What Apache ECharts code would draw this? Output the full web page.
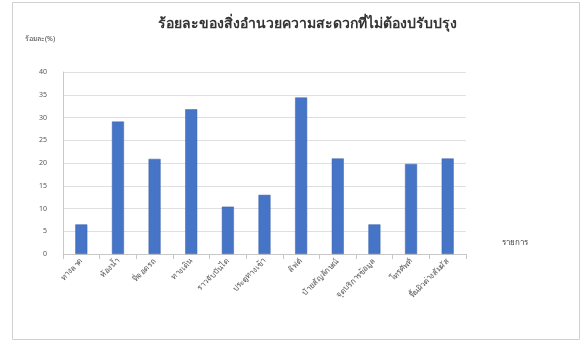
<!DOCTYPE html>
<html>
<head>
<meta charset="utf-8">
<script src="https://cdn.jsdelivr.net/npm/echarts@6/dist/echarts.min.js"></script>
<style>
html,body{margin:0;padding:0;background:#fff;}
#chart{width:586px;height:351px;}
</style>
</head>
<body>
<div id="chart"></div>
<script>
// Facility categories along the x axis
const categories = [
  'ทางลาด', 'ห้องน้ำ', 'ที่จอดรถ', 'ทางเดิน', 'ราวจับบันได',
  'ประตูทางเข้า', 'ลิฟต์', 'ป้ายสัญลักษณ์', 'จุดบริการข้อมูล',
  'โทรศัพท์', 'พื้นผิวต่างสัมผัส'
];
// Percentage of facilities needing no improvement
const values = [6.5, 29.1, 20.9, 31.8, 10.4, 13.0, 34.4, 21.0, 6.5, 19.8, 21.0];
// Y-axis ticks
const yTicks = [0, 5, 10, 15, 20, 25, 30, 35, 40];

const chart = echarts.init(document.getElementById('chart'), null, {renderer: 'canvas'});
const font = '"Noto Sans", "Noto Sans CJK SC", sans-serif';

chart.setOption({
  animation: false,
  backgroundColor: '#ffffff',
  textStyle: {fontFamily: font},
  graphic: [{
    type: 'rect',
    shape: {x: 12.5, y: 2.5, width: 567, height: 337},
    style: {fill: 'none', stroke: '#d0d0d0', lineWidth: 1},
    silent: true
  }],
  title: {
    text: 'ร้อยละของสิ่งอำนวยความสะดวกที่ไม่ต้องปรับปรุง',
    left: 302, top: 12, textAlign: 'center',
    textStyle: {fontSize: 14, fontWeight: 'bold', color: '#333', fontFamily: font}
  },
  grid: {left: 63, right: 120, top: 72, bottom: 97, containLabel: false},
  xAxis: {
    type: 'category',
    data: categories,
    name: 'รายการ',
    nameLocation: 'end',
    nameGap: 36,
    nameTextStyle: {fontSize: 8, color: '#444', verticalAlign: 'bottom', padding: [0, 0, 7, 0]},
    axisLine: {lineStyle: {color: '#c8c8c8'}},
    axisTick: {show: true, alignWithLabel: false, lineStyle: {color: '#c8c8c8'}},
    axisLabel: {rotate: 45, fontSize: 8, color: '#555', margin: 6, interval: 0}
  },
  yAxis: {
    type: 'value',
    min: yTicks[0], max: yTicks[yTicks.length - 1], interval: 5,
    name: 'ร้อยละ(%)',
    nameLocation: 'end',
    nameGap: 30,
    nameTextStyle: {fontSize: 7, color: '#444', align: 'right', padding: [0, 8, 0, 0]},
    axisLine: {show: true, lineStyle: {color: '#c8c8c8'}},
    axisTick: {show: false},
    axisLabel: {fontSize: 7, color: '#555', margin: 16},
    splitLine: {lineStyle: {color: '#e0e0e0'}}
  },
  series: [{
    type: 'bar',
    data: values,
    barWidth: 12,
    itemStyle: {color: '#4674c6', borderColor: '#3a62ad', borderWidth: 0.5}
  }]
});
</script>
</body>
</html>
